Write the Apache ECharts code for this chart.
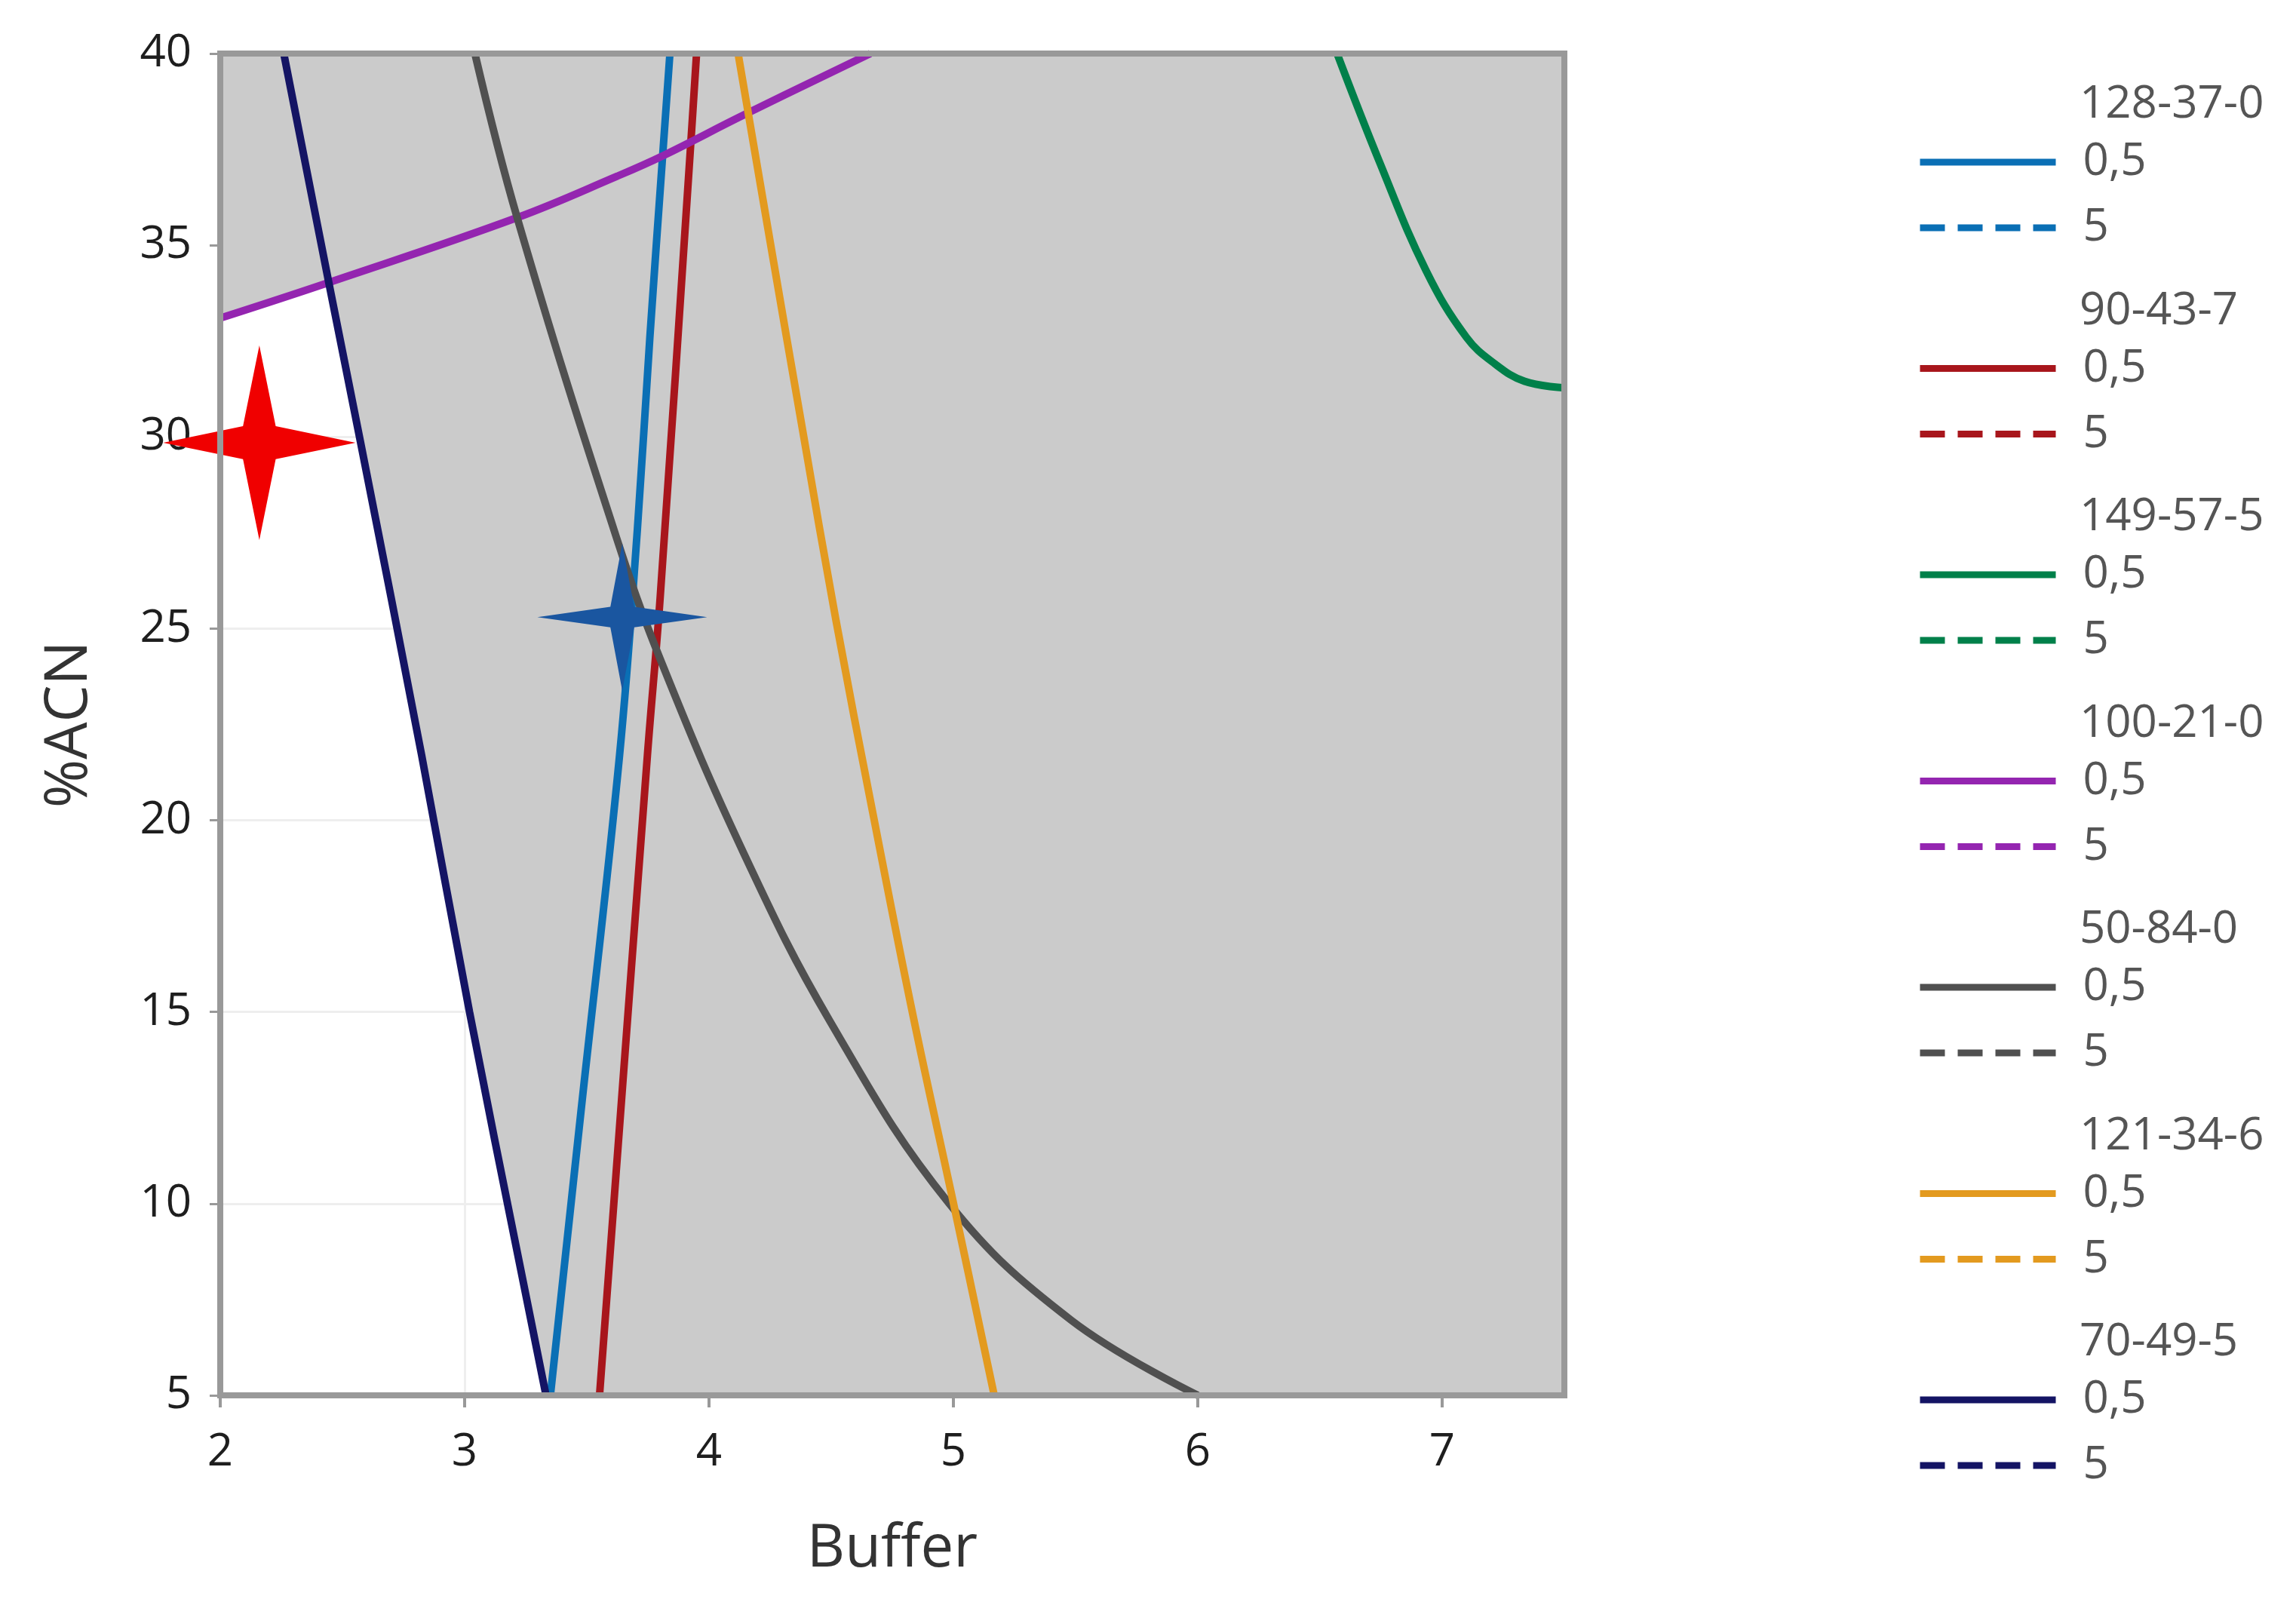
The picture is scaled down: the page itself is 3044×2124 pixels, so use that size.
<!DOCTYPE html>
<html>
<head>
<meta charset="utf-8">
<title>Buffer vs %ACN</title>
<script src="https://cdn.jsdelivr.net/npm/echarts@6/dist/echarts.min.js"></script>
<style>
  html, body { margin: 0; padding: 0; background: #ffffff; }
  #chart { width: 3044px; height: 2124px; }
</style>
</head>
<body>
<div id="chart"></div>
<script>
// Contour groups and their two levels
const groups = ["128-37-0", "90-43-7", "149-57-5", "100-21-0", "50-84-0", "121-34-6", "70-49-5"];
const levels = ["0,5", "5"];
const colors = ["#0a6fb5", "#a8161c", "#00804a", "#9425b0", "#505050", "#e39a1f", "#141464"];

// Contour lines at 0,5  ([buffer, %ACN])
const c128_37_0 = [[3.351, 5], [3.476, 12.4], [3.634, 21.7], [3.707, 27.6], [3.758, 32.6], [3.84, 40]];
const c90_43_7 = [[3.552, 5], [3.748, 21.7], [3.8, 25.8], [3.923, 37.43], [3.949, 40]];
const c149_57_5 = [[6.57, 40], [6.745, 37.15], [6.934, 34.34], [7.099, 32.6], [7.217, 31.9], [7.337, 31.45], [7.5, 31.28]];
const c100_21_0 = [[2, 33.1], [2.445, 34.03], [3.215, 35.72], [3.624, 36.8], [3.81, 37.33], [4.14, 38.39], [4.66, 40]];
const c50_84_0 = [[3.042, 40], [3.215, 35.72], [3.62, 27.4], [3.81, 24.05], [4.14, 19.17], [4.494, 14.77], [4.983, 10.0], [5.482, 6.96], [6.0, 5.0]];
const c121_34_6 = [[4.119, 40], [4.25, 35.1], [4.385, 30.1], [4.52, 25.2], [4.67, 20.2], [4.835, 14.9], [5.005, 9.87], [5.167, 5]];
const c70_49_5 = [[2.26, 40], [2.445, 34], [2.576, 29.8], [2.824, 21.7], [3.02, 15], [3.333, 5]];
const curves05 = [c128_37_0, c90_43_7, c149_57_5, c100_21_0, c50_84_0, c121_34_6, c70_49_5];
// Contour lines at 5 lie outside the plotted window
const curves5 = [[], [], [], [], [], [], []];

// Marked points
const redStar = [[2.16, 29.85]];
const blueStar = [[3.645, 25.3]];

// Axes
const xMin = 2, xMax = 7.5, yMin = 5, yMax = 40;
const xTickValues = [2, 3, 4, 5, 6, 7];

const FONT = "'Open Sans', 'Noto Sans', sans-serif";
const STAR = "path://M0,-100 L17,-17 L100,0 L17,17 L0,100 L-17,17 L-100,0 L-17,-17 Z";
const STAR_THIN = "path://M0,-100 L14,-14 L100,0 L14,14 L0,100 L-14,14 L-100,0 L-14,-14 Z";

const chart = echarts.init(document.getElementById("chart"));

// Gray region: everything right of the 70-49-5 line and above the 100-21-0 line
function renderGray(params, api) {
    const right = c70_49_5.map(p => api.coord(p))
        .concat([api.coord([xMax, yMin]), api.coord([xMax, yMax])]);
    const above = c100_21_0.map(p => api.coord(p))
        .concat([api.coord([xMin, yMax])]);
    return {
        type: "group",
        children: [
            { type: "polygon", shape: { points: right }, style: { fill: "#cbcbcb" } },
            { type: "polygon", shape: { points: above }, style: { fill: "#cbcbcb" } }
        ]
    };
}

const series = [{
    type: "custom",
    renderItem: renderGray,
    data: [[xMin, yMin]],
    z: 1,
    silent: true
}];

groups.forEach((g, i) => {
    series.push({
        name: g + " " + levels[0],
        type: "line",
        data: curves05[i],
        symbol: "none",
        smooth: 0.4,
        color: colors[i],
        lineStyle: { width: 10, color: colors[i] },
        z: 2
    });
    series.push({
        name: g + " " + levels[1],
        type: "line",
        data: curves5[i],
        symbol: "none",
        color: colors[i],
        lineStyle: { width: 10, color: colors[i], type: [33, 17] },
        z: 2
    });
});

series.push({
    type: "scatter",
    data: redStar,
    symbol: STAR,
    symbolSize: [255, 258],
    itemStyle: { color: "#f00000", opacity: 1 },
    clip: false,
    z: 5
});
series.push({
    type: "scatter",
    data: blueStar,
    symbol: STAR_THIN,
    symbolSize: [225, 195],
    itemStyle: { color: "#1a56a0", opacity: 1 },
    clip: false,
    z: 5
});

const groupStep = 273.5;

chart.setOption({
    animation: false,
    backgroundColor: "#ffffff",
    textStyle: { fontFamily: FONT },
    title: groups.map((g, i) => ({
        text: g,
        left: 2757,
        top: 109 + groupStep * i,
        padding: 0,
        textStyle: { fontSize: 60, lineHeight: 60, fontWeight: "normal", color: "#555555", fontFamily: FONT }
    })),
    legend: groups.map((g, i) => ({
        data: [g + " " + levels[0], g + " " + levels[1]],
        orient: "vertical",
        left: 2541,
        top: 185 + groupStep * i,
        padding: 0,
        itemGap: 27,
        itemWidth: 180,
        itemHeight: 60,
        selectedMode: false,
        itemStyle: { opacity: 0 },
        lineStyle: { width: 9 },
        formatter: name => name.split(" ")[1],
        textStyle: { fontSize: 60, lineHeight: 60, color: "#555555", fontFamily: FONT, padding: [0, 0, 0, 31] }
    })),
    grid: {
        left: 292, right: 970, top: 71, bottom: 274,
        show: true,
        z: 10,
        backgroundColor: "transparent",
        borderColor: "#999999",
        borderWidth: 8
    },
    xAxis: {
        type: "value",
        min: xMin, max: xMax, interval: 1,
        name: "Buffer",
        nameLocation: "middle",
        nameGap: 166,
        nameTextStyle: { fontSize: 78, color: "#333333", fontFamily: FONT },
        axisLine: { show: false },
        axisTick: { show: true, length: 16, customValues: xTickValues, lineStyle: { color: "#999999", width: 4 } },
        axisLabel: { customValues: xTickValues, fontSize: 60, color: "#1e1e1e", margin: 46, fontFamily: FONT },
        splitLine: { show: true, lineStyle: { color: "#eeeeee", width: 3 } }
    },
    yAxis: {
        type: "value",
        min: yMin, max: yMax, interval: 5,
        name: "%ACN",
        nameLocation: "middle",
        nameGap: 160,
        nameTextStyle: { fontSize: 78, color: "#333333", fontFamily: FONT },
        axisLine: { show: false },
        axisTick: { show: true, length: 14, lineStyle: { color: "#999999", width: 3 } },
        axisLabel: { fontSize: 60, color: "#1e1e1e", margin: 38, fontFamily: FONT },
        splitLine: { show: true, lineStyle: { color: "#eeeeee", width: 3 } }
    },
    series: series
});
</script>
</body>
</html>
